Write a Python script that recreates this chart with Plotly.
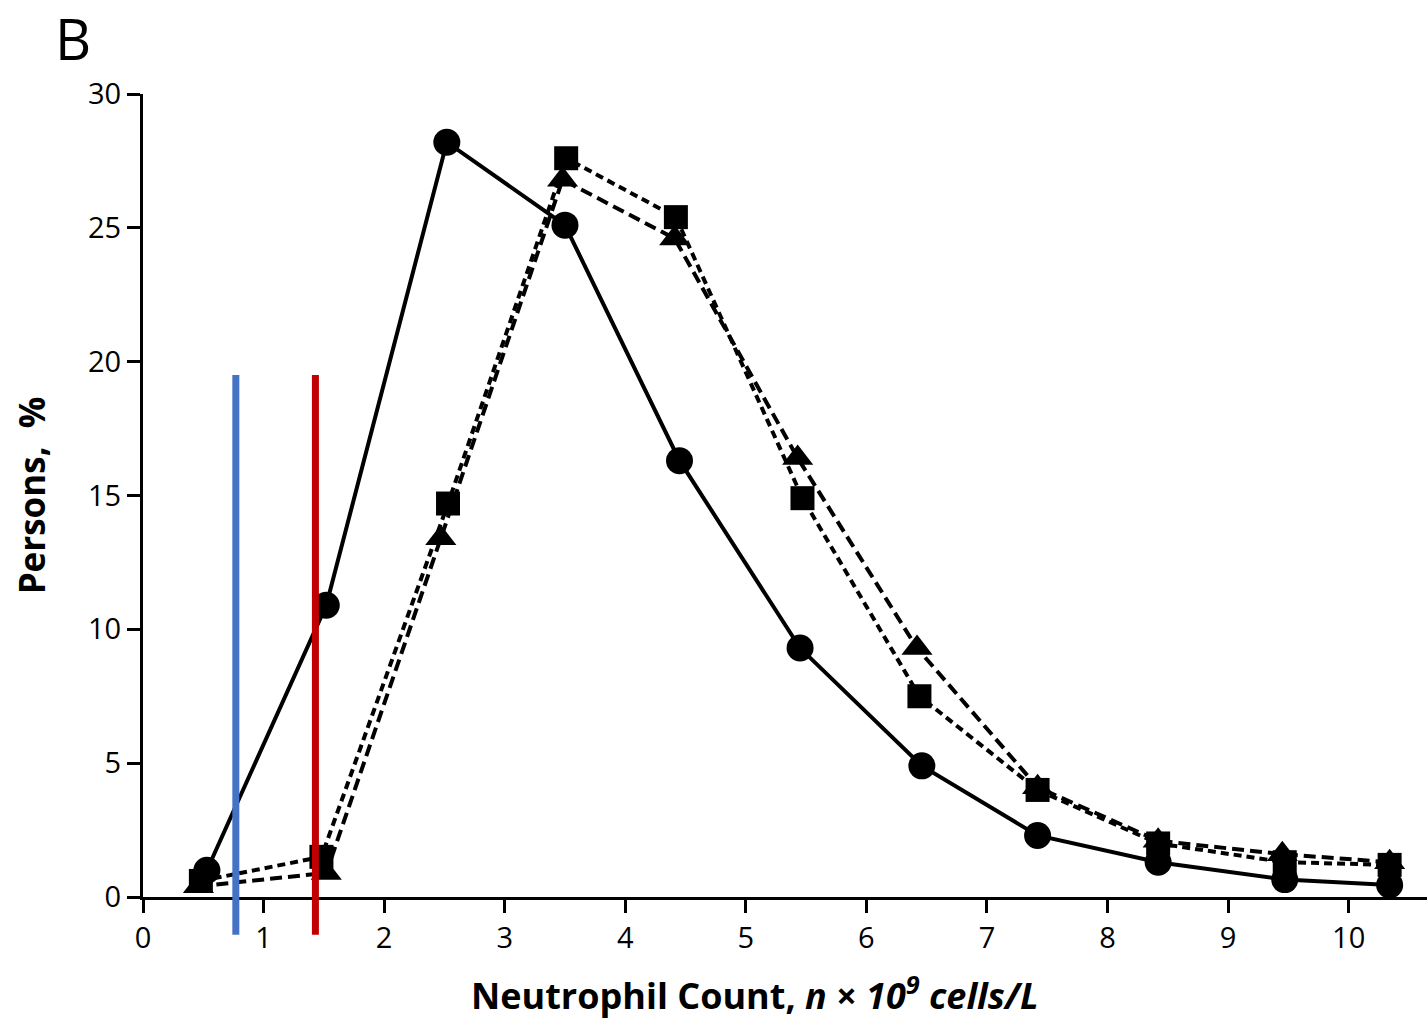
import plotly.graph_objects as go

# Data
circle_x = [0.53, 1.52, 2.52, 3.50, 4.45, 5.45, 6.46, 7.42, 8.42, 9.47, 10.34]
circle_y = [1.0, 10.9, 28.2, 25.1, 16.3, 9.3, 4.9, 2.3, 1.3, 0.65, 0.45]

square_x = [0.48, 1.48, 2.53, 3.51, 4.42, 5.47, 6.44, 7.42, 8.42, 9.47, 10.34]
square_y = [0.6, 1.5, 14.7, 27.6, 25.4, 14.9, 7.5, 4.0, 2.0, 1.3, 1.2]

triangle_x = [0.46, 1.52, 2.47, 3.48, 4.41, 5.43, 6.42, 7.42, 8.42, 9.45, 10.34]
triangle_y = [0.4, 0.9, 13.4, 26.8, 24.6, 16.4, 9.3, 4.1, 2.1, 1.6, 1.3]

threshold_x = [0.77, 1.43]
threshold_colors = ["#4472C4", "#C00000"]
threshold_top = 19.5

x_ticks = [0, 1, 2, 3, 4, 5, 6, 7, 8, 9, 10]
y_ticks = [0, 5, 10, 15, 20, 25, 30]

FONT = "Open Sans"

fig = go.Figure()

fig.add_trace(go.Scatter(
    x=triangle_x, y=triangle_y, mode="lines+markers",
    line=dict(color="black", width=4, dash="12px,6px"),
    marker=dict(symbol="triangle-up", size=27, color="black"),
    showlegend=False))
fig.add_trace(go.Scatter(
    x=square_x, y=square_y, mode="lines+markers",
    line=dict(color="black", width=4, dash="8px,5px"),
    marker=dict(symbol="square", size=24, color="black"),
    showlegend=False))
fig.add_trace(go.Scatter(
    x=circle_x, y=circle_y, mode="lines+markers",
    line=dict(color="black", width=4),
    marker=dict(symbol="circle", size=27, color="black"),
    showlegend=False))

# threshold lines (extend below the x axis)
y_bottom_paper = -0.047
for tx, c in zip(threshold_x, threshold_colors):
    fig.add_shape(type="line", xref="x", yref="paper",
                  x0=tx, x1=tx, y0=y_bottom_paper, y1=threshold_top / 30.0,
                  line=dict(color=c, width=7), layer="above")

fig.update_layout(
    width=1427, height=1022,
    margin=dict(l=143, r=0, t=94, b=125),
    plot_bgcolor="white", paper_bgcolor="white",
    font=dict(family=FONT, size=29, color="black"),
    xaxis=dict(range=[0, 10.65], tickvals=x_ticks, ticks="outside", ticklen=13,
               tickwidth=3, tickcolor="black", showline=True, linewidth=3,
               linecolor="black", showgrid=False, zeroline=False,
               tickfont=dict(size=29, family=FONT)),
    yaxis=dict(range=[0, 30], tickvals=y_ticks, ticks="outside", ticklen=13,
               tickwidth=3, tickcolor="black", showline=True, linewidth=3,
               linecolor="black", showgrid=False, zeroline=False,
               tickfont=dict(size=29, family=FONT),
               title=dict(text="<b>Persons,  %</b>", font=dict(size=35, family=FONT),
                          standoff=32)),
)

fig.add_annotation(text="<b>Neutrophil Count, <i>n</i> × <i>10<sup>9</sup> cells/L</i></b>",
                   xref="paper", yref="paper", x=0.4766, y=-0.1196,
                   xanchor="center", yanchor="middle", showarrow=False,
                   font=dict(size=36, family=FONT, color="black"))

fig.add_annotation(text="B", xref="paper", yref="paper", x=-0.07, y=1.0697,
                   xanchor="left", yanchor="middle", showarrow=False,
                   font=dict(size=56, family=FONT, color="black"))

fig.write_html("out.html", config={"displayModeBar": False},
               post_script="document.body.style.margin='0px';document.body.style.overflow='hidden';")
